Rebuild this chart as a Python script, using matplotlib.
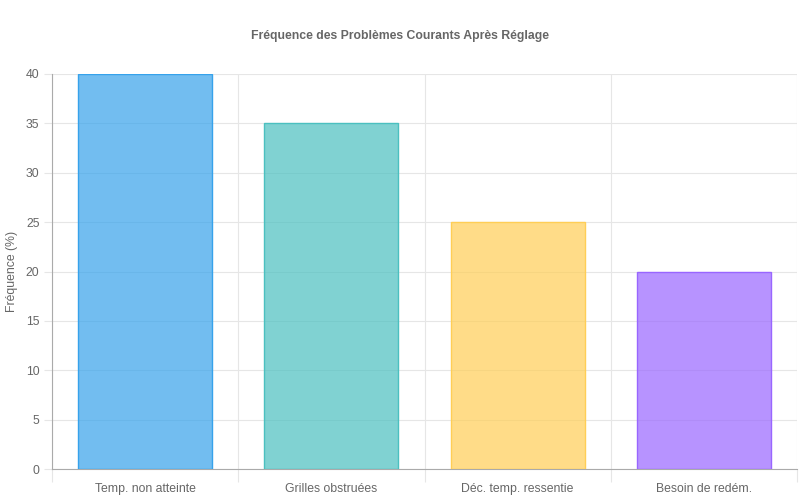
import matplotlib
matplotlib.use("Agg")
import matplotlib.pyplot as plt
import numpy as np

categories = ["Temp. non atteinte", "Grilles obstruées", "Déc. temp. ressentie", "Besoin de redém."]
values = [40, 35, 25, 20]
fill_colors = [(54/255, 162/255, 235/255, 0.7), (75/255, 192/255, 192/255, 0.7),
               (255/255, 206/255, 86/255, 0.7), (153/255, 102/255, 255/255, 0.7)]
edge_colors = ["#36A2EB", "#4BC0C0", "#FFCE56", "#9966FF"]
y_ticks = [0, 5, 10, 15, 20, 25, 30, 35, 40]
title = "Fréquence des Problèmes Courants Après Réglage"
y_label = "Fréquence (%)"

plt.rcParams['font.family'] = ['Liberation Sans', 'DejaVu Sans']

fig = plt.figure(figsize=(8, 5), dpi=100)
ax = fig.add_axes([52/800, 31/500, 745/800, 395/500])

x = np.arange(len(categories))
ax.bar(x, values, width=0.72, color=fill_colors, edgecolor=edge_colors, linewidth=1, zorder=3)

ax.set_xlim(-0.5, len(categories) - 0.5)
ax.set_ylim(0, 40)
ax.set_yticks(y_ticks)
ax.set_xticks(x)
ax.set_xticklabels(categories)

ax.set_xticks(np.arange(-0.5, len(categories), 1.0), minor=True)
ax.grid(True, which='minor', axis='x', color='#e6e6e6', linewidth=0.8, zorder=0)
ax.grid(True, which='major', axis='y', color='#e6e6e6', linewidth=0.8, zorder=0)
ax.tick_params(axis='x', which='major', length=0, pad=10, labelsize=8.8, labelcolor='#666666')
ax.tick_params(axis='x', which='minor', length=9, color='#e6e6e6', width=0.8)
ax.tick_params(axis='y', length=6, color='#e6e6e6', width=0.8, labelsize=8.8, labelcolor='#666666', pad=3)

for side in ['top', 'right']:
    ax.spines[side].set_visible(False)
ax.spines['left'].set_color('#aaaaaa')
ax.spines['bottom'].set_color('#aaaaaa')

ax.set_ylabel(y_label, fontsize=8.8, color='#666666', va='center')
ax.yaxis.set_label_coords((12 - 52) / 745, 0.5)
fig.text(0.5, 1 - 36/500, title, ha='center', va='center', fontsize=8.8, fontweight='bold', color='#666666')

fig.savefig("out.png", dpi=100)
